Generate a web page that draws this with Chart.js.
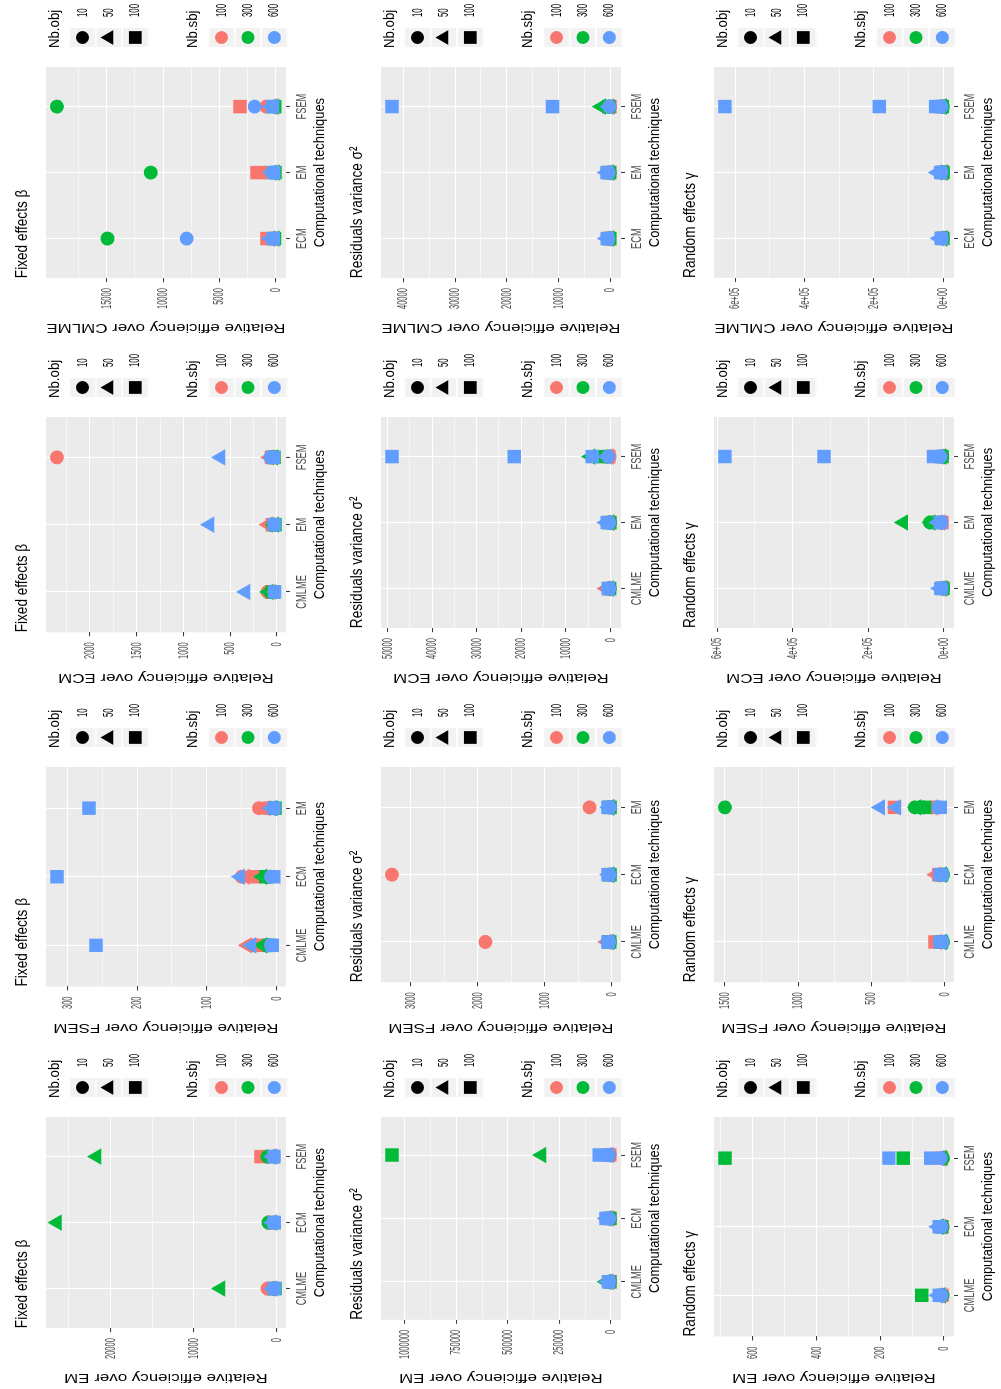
<!DOCTYPE html>
<html><head><meta charset="utf-8">
<script src="https://cdn.jsdelivr.net/npm/chart.js@4/dist/chart.umd.min.js"></script>
<style>
html,body{margin:0;padding:0;background:#fff;overflow:hidden;width:1001px;height:1389px;}
#rot{position:absolute;left:0;top:0;width:1389px;height:1001px;transform-origin:0 0;transform:translateY(1389px) rotate(-90deg);overflow:hidden;background:#fff;}
.panel{position:absolute;width:350px;height:333px;}
.panel canvas{display:block;}
</style></head><body><div id="rot"></div>
<script>
// ---------------- data ----------------
const NB_OBJ = [10, 50, 100];
const NB_SBJ = [100, 300, 600];
const SBJ_COLORS = ['#F8766D', '#00BA38', '#619CFF'];
const OBJ_SHAPES = ['circle', 'triangle', 'rect'];

const CATS_OVER_CMLME = ['ECM', 'EM', 'FSEM'];
const CATS_OVER_ECM = ['CMLME', 'EM', 'FSEM'];
const CATS_OVER_FSEM = ['CMLME', 'ECM', 'EM'];
const CATS_OVER_EM = ['CMLME', 'ECM', 'FSEM'];

const TICKS_FE_CMLME = [0, 5000, 10000, 15000];
const TICKS_RE_CMLME = [0, 10000, 20000, 30000, 40000];
const TICKS_RA_CMLME = [0, 200000, 400000, 600000];
const TICKS_FE_ECM = [0, 500, 1000, 1500, 2000];
const TICKS_RE_ECM = [0, 10000, 20000, 30000, 40000, 50000];
const TICKS_RA_ECM = [0, 200000, 400000, 600000];
const TICKS_FE_FSEM = [0, 100, 200, 300];
const TICKS_RE_FSEM = [0, 1000, 2000, 3000];
const TICKS_RA_FSEM = [0, 500, 1000, 1500];
const TICKS_FE_EM = [0, 10000, 20000];
const TICKS_RE_EM = [0, 250000, 500000, 750000, 1000000];
const TICKS_RA_EM = [0, 200, 400, 600];

// points: [technique, Nb.obj, Nb.sbj, relative efficiency]
const FE_CMLME = [
  ['ECM',10,100,250],['ECM',50,100,400],['ECM',100,100,750],['ECM',10,300,14950],['ECM',50,300,60],['ECM',100,300,80],['ECM',10,600,7900],['ECM',50,600,450],['ECM',100,600,200],
  ['EM',10,100,960],['EM',50,100,300],['EM',100,100,1650],['EM',10,300,11100],['EM',50,300,40],['EM',100,300,30],['EM',10,600,300],['EM',50,600,350],['EM',100,600,150],
  ['FSEM',10,100,800],['FSEM',50,100,300],['FSEM',100,100,3150],['FSEM',10,300,19450],['FSEM',50,300,100],['FSEM',100,300,60],['FSEM',10,600,1850],['FSEM',50,600,400],['FSEM',100,600,250]
];
const RE_CMLME = [
  ['ECM',10,100,300],['ECM',50,100,250],['ECM',100,100,150],['ECM',10,300,200],['ECM',50,300,150],['ECM',100,300,100],['ECM',10,600,400],['ECM',50,600,800],['ECM',100,600,600],
  ['EM',10,100,200],['EM',50,100,150],['EM',100,100,100],['EM',10,300,100],['EM',50,300,200],['EM',100,300,150],['EM',10,600,300],['EM',50,600,850],['EM',100,600,650],
  ['FSEM',10,100,100],['FSEM',50,100,50],['FSEM',100,100,80],['FSEM',10,300,150],['FSEM',50,300,1750],['FSEM',100,300,300],['FSEM',10,600,200],['FSEM',50,600,300],['FSEM',100,600,42200],['FSEM',100,600,11160]
];
const RA_CMLME = [
  ['ECM',10,100,2000],['ECM',50,100,3000],['ECM',100,100,1500],['ECM',10,300,1000],['ECM',50,300,2500],['ECM',100,300,1500],['ECM',10,600,4000],['ECM',50,600,12500],['ECM',100,600,6000],
  ['EM',10,100,3000],['EM',50,100,4000],['EM',100,100,2000],['EM',10,300,500],['EM',50,300,1000],['EM',100,300,800],['EM',10,600,5000],['EM',50,600,17300],['EM',100,600,7700],
  ['FSEM',10,100,3000],['FSEM',50,100,4000],['FSEM',100,100,5000],['FSEM',10,300,1500],['FSEM',50,300,3000],['FSEM',100,300,2500],['FSEM',10,600,5000],['FSEM',50,600,8000],['FSEM',100,600,630000],['FSEM',100,600,184600],['FSEM',100,600,22000]
];
const FE_ECM = [
  ['CMLME',10,100,100],['CMLME',50,100,60],['CMLME',100,100,60],['CMLME',10,300,70],['CMLME',50,300,90],['CMLME',100,300,40],['CMLME',10,600,30],['CMLME',50,600,336],['CMLME',100,600,25],
  ['EM',10,100,60],['EM',50,100,95],['EM',100,100,50],['EM',10,300,40],['EM',50,300,30],['EM',100,300,20],['EM',10,600,25],['EM',50,600,722],['EM',100,600,30],
  ['FSEM',10,100,2354],['FSEM',50,100,80],['FSEM',100,100,60],['FSEM',10,300,50],['FSEM',50,300,40],['FSEM',100,300,30],['FSEM',10,600,70],['FSEM',50,600,603],['FSEM',100,600,40]
];
const RE_ECM = [
  ['CMLME',10,100,300],['CMLME',50,100,1100],['CMLME',100,100,200],['CMLME',10,300,150],['CMLME',50,300,300],['CMLME',100,300,200],['CMLME',10,600,300],['CMLME',50,600,375],['CMLME',100,600,500],
  ['EM',10,100,200],['EM',50,100,300],['EM',100,100,150],['EM',10,300,100],['EM',50,300,200],['EM',100,300,150],['EM',10,600,300],['EM',50,600,1100],['EM',100,600,750],
  ['FSEM',10,100,200],['FSEM',50,100,300],['FSEM',100,100,400],['FSEM',10,300,800],['FSEM',50,300,4500],['FSEM',100,300,2000],['FSEM',10,600,500],['FSEM',50,600,800],['FSEM',100,600,49000],['FSEM',100,600,21600],['FSEM',100,600,4100]
];
const RA_ECM = [
  ['CMLME',10,100,3000],['CMLME',50,100,5000],['CMLME',100,100,2000],['CMLME',10,300,1000],['CMLME',50,300,2000],['CMLME',100,300,1500],['CMLME',10,600,5000],['CMLME',50,600,10600],['CMLME',100,600,7000],
  ['EM',10,100,5000],['EM',50,100,8000],['EM',100,100,4000],['EM',10,300,35400],['EM',50,300,107000],['EM',100,300,20000],['EM',10,600,6000],['EM',50,600,15000],['EM',100,600,8850],['EM',50,300,33600],
  ['FSEM',10,100,4000],['FSEM',50,100,6000],['FSEM',100,100,5000],['FSEM',10,300,3000],['FSEM',50,300,5000],['FSEM',100,300,4000],['FSEM',10,600,8000],['FSEM',50,600,12000],['FSEM',100,600,579700],['FSEM',100,600,316800],['FSEM',100,600,26500]
];
const FE_FSEM = [
  ['CMLME',10,100,30],['CMLME',50,100,42],['CMLME',100,100,25],['CMLME',10,300,12],['CMLME',50,300,20],['CMLME',100,300,10],['CMLME',10,600,8],['CMLME',50,600,36],['CMLME',100,600,259],['CMLME',100,600,6],
  ['ECM',10,100,50],['ECM',50,100,45],['ECM',100,100,30],['ECM',10,300,10],['ECM',50,300,20],['ECM',100,300,15],['ECM',10,600,8],['ECM',50,600,52],['ECM',100,600,315],['ECM',100,600,4],
  ['EM',10,100,25],['EM',50,100,15],['EM',100,100,10],['EM',10,300,3],['EM',50,300,5],['EM',100,300,2],['EM',10,600,3],['EM',50,600,8],['EM',100,600,269],['EM',100,600,4]
];
const RE_FSEM = [
  ['CMLME',10,100,1886],['CMLME',50,100,75],['CMLME',100,100,40],['CMLME',10,300,20],['CMLME',50,300,30],['CMLME',100,300,25],['CMLME',10,600,30],['CMLME',50,600,45],['CMLME',100,600,50],
  ['ECM',10,100,3285],['ECM',50,100,40],['ECM',100,100,30],['ECM',10,300,20],['ECM',50,300,25],['ECM',100,300,20],['ECM',10,600,25],['ECM',50,600,40],['ECM',100,600,50],
  ['EM',10,100,327],['EM',50,100,35],['EM',100,100,30],['EM',10,300,20],['EM',50,300,25],['EM',100,300,20],['EM',10,600,25],['EM',50,600,40],['EM',100,600,50]
];
const RA_FSEM = [
  ['CMLME',10,100,40],['CMLME',50,100,50],['CMLME',100,100,65],['CMLME',10,300,10],['CMLME',50,300,15],['CMLME',100,300,20],['CMLME',10,600,15],['CMLME',50,600,25],['CMLME',100,600,30],
  ['ECM',10,100,35],['ECM',50,100,60],['ECM',100,100,40],['ECM',10,300,10],['ECM',50,300,15],['ECM',100,300,20],['ECM',10,600,15],['ECM',50,600,25],['ECM',100,600,30],
  ['EM',10,100,88],['EM',50,100,80],['EM',100,100,342],['EM',10,300,1500],['EM',50,300,192],['EM',100,300,135],['EM',10,600,40],['EM',50,600,439],['EM',100,600,30],['EM',50,600,330],['EM',10,300,203],['EM',10,300,143]
];
const FE_EM = [
  ['CMLME',10,100,1100],['CMLME',50,100,800],['CMLME',100,100,600],['CMLME',10,300,300],['CMLME',50,300,6760],['CMLME',100,300,200],['CMLME',10,600,400],['CMLME',50,600,500],['CMLME',100,600,300],
  ['ECM',10,100,900],['ECM',50,100,600],['ECM',100,100,500],['ECM',10,300,1000],['ECM',50,300,26450],['ECM',100,300,300],['ECM',10,600,400],['ECM',50,600,500],['ECM',100,600,300],
  ['FSEM',10,100,1100],['FSEM',50,100,700],['FSEM',100,100,1900],['FSEM',10,300,1100],['FSEM',50,300,21700],['FSEM',100,300,400],['FSEM',10,600,400],['FSEM',50,600,500],['FSEM',100,600,350]
];
const RE_EM = [
  ['CMLME',10,100,5000],['CMLME',50,100,8000],['CMLME',100,100,4000],['CMLME',10,300,6000],['CMLME',50,300,24000],['CMLME',100,300,5000],['CMLME',10,600,8000],['CMLME',50,600,15000],['CMLME',100,600,12000],
  ['ECM',10,100,5000],['ECM',50,100,7000],['ECM',100,100,4000],['ECM',10,300,6000],['ECM',50,300,22000],['ECM',100,300,5000],['ECM',10,600,8000],['ECM',50,600,20000],['ECM',100,600,24000],
  ['FSEM',10,100,5000],['FSEM',50,100,8000],['FSEM',100,100,6000],['FSEM',10,300,10000],['FSEM',50,300,336600],['FSEM',100,300,1061800],['FSEM',10,600,10000],['FSEM',50,600,20000],['FSEM',100,600,57000],['FSEM',100,600,16000]
];
const RA_EM = [
  ['CMLME',10,100,5],['CMLME',50,100,8],['CMLME',100,100,6],['CMLME',10,300,5],['CMLME',50,300,10],['CMLME',100,300,70],['CMLME',10,600,8],['CMLME',50,600,20],['CMLME',100,600,15],
  ['ECM',10,100,5],['ECM',50,100,8],['ECM',100,100,6],['ECM',10,300,5],['ECM',50,300,15],['ECM',100,300,8],['ECM',10,600,8],['ECM',50,600,20],['ECM',100,600,15],
  ['FSEM',10,100,5],['FSEM',50,100,10],['FSEM',100,100,8],['FSEM',10,300,3],['FSEM',50,300,5],['FSEM',100,300,687],['FSEM',10,600,10],['FSEM',50,600,15],['FSEM',100,600,173],['FSEM',100,300,128],['FSEM',100,600,42]
];

// ---------------- text squeeze (reference uses narrow glyphs) ----------------
const SQUEEZE = {ttlmk:0.8, xtlmk:0.86, ytlmk:1.3, xtkmk:0.62, ytkmk:0.5, lgtmk:0.88, lglmk:0.52};
const markRe = /(ttlmk|xtlmk|ytlmk|xtkmk|ytkmk|lgtmk|lglmk)/;
function sqOf(f){ const m = markRe.exec(f || ''); return m ? SQUEEZE[m[1]] : 1; }
const CP = CanvasRenderingContext2D.prototype;
const _fill = CP.fillText, _meas = CP.measureText;
CP.fillText = function(t, x, y, mw){
  const s = sqOf(this.font);
  if (s === 1) return (mw === undefined || mw === null) ? _fill.call(this, t, x, y) : _fill.call(this, t, x, y, mw);
  this.save(); this.translate(x, y); this.scale(s, 1);
  if (mw === undefined || mw === null) _fill.call(this, t, 0, 0); else _fill.call(this, t, 0, 0, mw / s);
  this.restore();
};
CP.measureText = function(t){
  const m = _meas.call(this, t); const s = sqOf(this.font);
  if (s === 1) return m;
  return {width: m.width * s, actualBoundingBoxLeft: m.actualBoundingBoxLeft * s, actualBoundingBoxRight: m.actualBoundingBoxRight * s,
    actualBoundingBoxAscent: m.actualBoundingBoxAscent, actualBoundingBoxDescent: m.actualBoundingBoxDescent,
    fontBoundingBoxAscent: m.fontBoundingBoxAscent, fontBoundingBoxDescent: m.fontBoundingBoxDescent};
};

const fam = mk => "'Liberation Sans', Arial, " + mk;

// ---------------- helpers ----------------
const OBJ_RADIUS = [7, 9.5, 9.5];
const LEG_RADIUS = [6.5, 8.5, 9];

function fmtSci(v){
  if (v === 0) return '0e+00';
  const e = Math.floor(Math.log10(Math.abs(v)) + 1e-9);
  const m = Math.round(v / Math.pow(10, e));
  return m + 'e' + (e < 0 ? '-' : '+') + String(Math.abs(e)).padStart(2, '0');
}

function drawShape(ctx, style, r, x, y, color){
  ctx.save(); ctx.fillStyle = color; ctx.beginPath();
  if (style === 'circle') { ctx.arc(x, y, r, 0, Math.PI * 2); }
  else if (style === 'triangle') {
    ctx.moveTo(x, y - r); ctx.lineTo(x + 0.866 * r, y + 0.5 * r); ctx.lineTo(x - 0.866 * r, y + 0.5 * r); ctx.closePath();
  } else { const s = r * Math.SQRT1_2; ctx.rect(x - s, y - s, 2 * s, 2 * s); }
  ctx.fill(); ctx.restore();
}

const panelBg = {
  id: 'panelBg',
  beforeDraw(chart){
    const {ctx, chartArea: a} = chart;
    ctx.save(); ctx.fillStyle = '#EBEBEB'; ctx.fillRect(a.left, a.top, a.right - a.left, a.bottom - a.top); ctx.restore();
  }
};
const titleAlign = {
  id: 'titleAlign',
  afterLayout(chart){ if (chart.titleBlock) chart.titleBlock.left = chart.chartArea.left; }
};
const ggLegend = {
  id: 'ggLegend',
  afterDraw(chart){
    const ctx = chart.ctx;
    const kx = 291, kw = 21, kh = 26.4, lx = 322;
    const groups = [
      {title: 'Nb.obj', ty: 54.5, top: 69.3, labels: NB_OBJ, shape: i => [OBJ_SHAPES[i], LEG_RADIUS[i], '#000000']},
      {title: 'Nb.sbj', ty: 192.5, top: 208.3, labels: NB_SBJ, shape: i => ['circle', 6.5, SBJ_COLORS[i]]}
    ];
    ctx.save();
    for (const g of groups){
      ctx.fillStyle = '#000'; ctx.textBaseline = 'middle'; ctx.textAlign = 'left';
      ctx.font = '15px ' + fam('lgtmk');
      ctx.fillText(g.title, kx, g.ty);
      g.labels.forEach((lab, i) => {
        const y0 = g.top + i * kh;
        ctx.fillStyle = '#F2F2F2'; ctx.fillRect(kx, y0, kw, kh);
        ctx.strokeStyle = '#FFFFFF'; ctx.lineWidth = 1; ctx.strokeRect(kx + 0.5, y0 + 0.5, kw - 1, kh - 1);
        const [st, r, col] = g.shape(i);
        drawShape(ctx, st, r, kx + kw / 2, y0 + kh / 2, col);
        ctx.fillStyle = '#000'; ctx.font = '15px ' + fam('lglmk'); ctx.textBaseline = 'middle';
        ctx.fillText(String(lab), lx, y0 + kh / 2);
      });
    }
    ctx.restore();
  }
};

function buildDatasets(pts, cats){
  const ds = [];
  for (const s of [600, 300, 100]) for (const o of [100, 50, 10]) {
    const si = NB_SBJ.indexOf(s), oi = NB_OBJ.indexOf(o);
    const data = pts.filter(p => p[1] === o && p[2] === s).map(p => ({x: cats.indexOf(p[0]), y: p[3]}));
    ds.push({
      label: 'Nb.obj ' + o + ', Nb.sbj ' + s, data,
      pointStyle: OBJ_SHAPES[oi], pointRadius: OBJ_RADIUS[oi], pointHoverRadius: OBJ_RADIUS[oi],
      backgroundColor: SBJ_COLORS[si], borderColor: SBJ_COLORS[si], borderWidth: 0, pointBorderWidth: 0
    });
  }
  return ds;
}

const PANELS = [
  {row:0, col:3, title:'Fixed effects β', over:'CMLME', cats:CATS_OVER_CMLME, ticks:TICKS_FE_CMLME, pts:FE_CMLME, sci:false},
  {row:1, col:3, title:'Residuals variance σ²', over:'CMLME', cats:CATS_OVER_CMLME, ticks:TICKS_RE_CMLME, pts:RE_CMLME, sci:false},
  {row:2, col:3, title:'Random effects γ', over:'CMLME', cats:CATS_OVER_CMLME, ticks:TICKS_RA_CMLME, pts:RA_CMLME, sci:true},
  {row:0, col:2, title:'Fixed effects β', over:'ECM', cats:CATS_OVER_ECM, ticks:TICKS_FE_ECM, pts:FE_ECM, sci:false},
  {row:1, col:2, title:'Residuals variance σ²', over:'ECM', cats:CATS_OVER_ECM, ticks:TICKS_RE_ECM, pts:RE_ECM, sci:false},
  {row:2, col:2, title:'Random effects γ', over:'ECM', cats:CATS_OVER_ECM, ticks:TICKS_RA_ECM, pts:RA_ECM, sci:true},
  {row:0, col:1, title:'Fixed effects β', over:'FSEM', cats:CATS_OVER_FSEM, ticks:TICKS_FE_FSEM, pts:FE_FSEM, sci:false},
  {row:1, col:1, title:'Residuals variance σ²', over:'FSEM', cats:CATS_OVER_FSEM, ticks:TICKS_RE_FSEM, pts:RE_FSEM, sci:false},
  {row:2, col:1, title:'Random effects γ', over:'FSEM', cats:CATS_OVER_FSEM, ticks:TICKS_RA_FSEM, pts:RA_FSEM, sci:false},
  {row:0, col:0, title:'Fixed effects β', over:'EM', cats:CATS_OVER_EM, ticks:TICKS_FE_EM, pts:FE_EM, sci:false},
  {row:1, col:0, title:'Residuals variance σ²', over:'EM', cats:CATS_OVER_EM, ticks:TICKS_RE_EM, pts:RE_EM, sci:false},
  {row:2, col:0, title:'Random effects γ', over:'EM', cats:CATS_OVER_EM, ticks:TICKS_RA_EM, pts:RA_EM, sci:false}
];
const ROW_TOP = [0, 335, 668];
const COL_W = 350, PANEL_H = 333;

const root = document.getElementById('rot');
PANELS.forEach(p => {
  const div = document.createElement('div');
  div.className = 'panel';
  div.style.left = (p.col * COL_W) + 'px';
  div.style.top = ROW_TOP[p.row] + 'px';
  const cv = document.createElement('canvas');
  cv.width = COL_W; cv.height = PANEL_H;
  div.appendChild(cv); root.appendChild(div);

  const vals = p.pts.map(q => q[3]);
  const dmin = Math.min(...vals), dmax = Math.max(...vals), rng = dmax - dmin;
  const ymin = dmin - 0.05 * rng, ymax = dmax + 0.05 * rng;
  const step = p.ticks[1] - p.ticks[0];
  const minors = [];
  for (let i = 0; i < p.ticks.length - 1; i++) minors.push((p.ticks[i] + p.ticks[i + 1]) / 2);
  if (p.ticks[p.ticks.length - 1] + step / 2 <= ymax) minors.push(p.ticks[p.ticks.length - 1] + step / 2);
  if (p.ticks[0] - step / 2 >= ymin) minors.push(p.ticks[0] - step / 2);
  const majorSet = new Set(p.ticks);
  const allTicks = [...p.ticks, ...minors].sort((a, b) => a - b);
  const isMajor = c => c.tick && majorSet.has(c.tick.value);

  new Chart(cv, {
    type: 'scatter',
    data: {datasets: buildDatasets(p.pts, p.cats)},
    plugins: [panelBg, titleAlign, ggLegend],
    options: {
      responsive: false, animation: false, events: [], devicePixelRatio: 1,
      layout: {padding: {left: 0, right: 78, top: 0, bottom: 0}},
      plugins: {
        legend: {display: false}, tooltip: {enabled: false},
        title: {display: true, text: p.title, align: 'start', color: '#000000',
          font: {size: 17, family: fam('ttlmk'), lineHeight: 1.2, weight: 'normal'},
          padding: {top: 12.3, bottom: 13.3}}
      },
      scales: {
        x: {
          type: 'linear', min: -0.6, max: 2.6,
          afterBuildTicks: ax => { ax.ticks = [0, 1, 2].map(v => ({value: v})); },
          ticks: {autoSkip: false, maxRotation: 0, minRotation: 0, padding: 4, color: '#4D4D4D',
            font: {size: 15, family: fam('xtkmk'), lineHeight: 1.0},
            callback: v => p.cats[v] !== undefined ? p.cats[v] : ''},
          grid: {color: '#FFFFFF', lineWidth: 1.1, tickColor: '#333333', tickWidth: 1, tickLength: 4, drawTicks: true},
          border: {display: false},
          title: {display: true, text: 'Computational techniques', color: '#000000',
            font: {size: 15, family: fam('xtlmk'), lineHeight: 0.94}, padding: {top: 0, bottom: 5.9}}
        },
        y: {
          type: 'linear', min: ymin, max: ymax,
          afterBuildTicks: ax => { ax.ticks = allTicks.map(v => ({value: v})); },
          ticks: {autoSkip: false, padding: 6, color: '#4D4D4D',
            font: {size: 15, family: fam('ytkmk'), lineHeight: 1.2},
            callback: v => majorSet.has(v) ? (p.sci ? fmtSci(v) : String(v)) : ''},
          grid: {color: '#FFFFFF', lineWidth: c => isMajor(c) ? 1.1 : 0.55,
            tickColor: c => isMajor(c) ? '#333333' : 'rgba(0,0,0,0)', tickWidth: 1, tickLength: 4, drawTicks: true},
          border: {display: false},
          title: {display: true, text: 'Relative efficiency over ' + p.over, color: '#000000',
            font: {size: 13, family: fam('ytlmk'), lineHeight: 1.2}, padding: {top: 3.7, bottom: 4.7}}
        }
      }
    }
  });
});
</script></body></html>
